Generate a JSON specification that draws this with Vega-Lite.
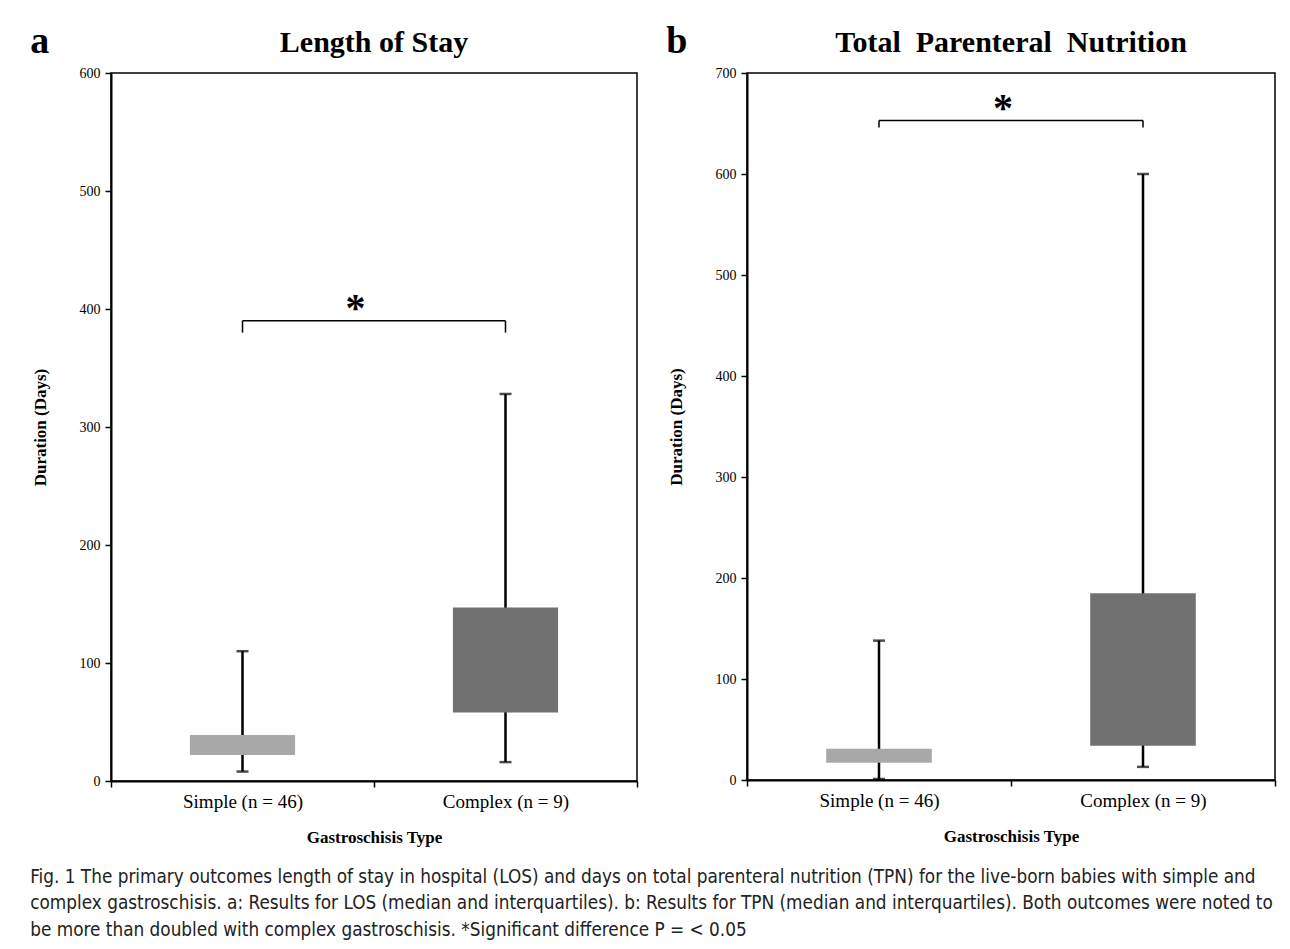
{
  "$schema": "https://vega.github.io/schema/vega-lite/v6.json",
  "background": "white",
  "padding": {"left": 30, "top": 23, "right": 10, "bottom": 10},
  "datasets": {
    "los": [
      {"type": "Simple (n = 46)", "q1": 22, "q3": 39, "lo": 8, "hi": 110},
      {"type": "Complex (n = 9)", "q1": 58, "q3": 147, "lo": 16, "hi": 328}
    ],
    "tpn": [
      {"type": "Simple (n = 46)", "q1": 17, "q3": 31, "lo": 1, "hi": 138},
      {"type": "Complex (n = 9)", "q1": 34, "q3": 185, "lo": 13, "hi": 600}
    ],
    "losSig": [
      {"from": "Simple (n = 46)", "to": "Complex (n = 9)", "bar": 390, "end": 380, "star": 400, "label": "*"}
    ],
    "tpnSig": [
      {"from": "Simple (n = 46)", "to": "Complex (n = 9)", "bar": 653, "end": 646, "star": 664, "label": "*"}
    ]
  },
  "config": {
    "view": {"stroke": "black", "strokeWidth": 1.5},
    "font": "Liberation Serif",
    "axis": {
      "domainColor": "black", "domainWidth": 2, "tickColor": "black", "tickWidth": 1.5, "tickSize": 6,
      "grid": false, "labelColor": "black", "titleColor": "black",
      "labelFont": "Liberation Serif", "titleFont": "Liberation Serif"
    },
    "title": {"font": "Liberation Serif", "color": "black"},
    "concat": {"spacing": 27}
  },
  "title": {
    "text": [
      "Fig. 1 The primary outcomes length of stay in hospital (LOS) and days on total parenteral nutrition (TPN) for the live-born babies with simple and",
      "complex gastroschisis. a: Results for LOS (median and interquartiles). b: Results for TPN (median and interquartiles). Both outcomes were noted to",
      "be more than doubled with complex gastroschisis. *Significant difference P = < 0.05"
    ],
    "orient": "bottom", "anchor": "start", "frame": "bounds",
    "font": "Liberation Sans Narrow, DejaVu Sans Condensed, Open Sans, sans-serif",
    "fontSize": 18.8, "fontWeight": "normal", "lineHeight": 26.5, "offset": 22, "color": "#222222"
  },
  "hconcat": [
    {
      "title": {"text": "a", "anchor": "start", "frame": "bounds", "fontSize": 38, "fontWeight": "bold", "offset": -34},
      "vconcat": [
        {
          "title": {"text": "Length of Stay", "fontSize": 30, "fontWeight": "bold", "anchor": "middle", "offset": 8},
          "width": 526,
          "height": 708,
          "layer": [
            {
              "data": {"name": "los"},
              "mark": {"type": "rule", "color": "black", "strokeWidth": 2.5},
              "encoding": {
                "x": {"field": "type", "type": "nominal", "sort": null,
                  "scale": {"type": "band", "paddingInner": 0, "paddingOuter": 0, "domain": ["Simple (n = 46)", "Complex (n = 9)"]},
                  "axis": {"title": "Gastroschisis Type", "tickBand": "extent", "labelAngle": 0, "labelFontSize": 19, "titleFontSize": 17, "titleFontWeight": "bold", "labelPadding": 5, "titlePadding": 18}},
                "y": {"field": "lo", "type": "quantitative",
                  "scale": {"domain": [0, 600], "nice": false},
                  "axis": {"values": [0, 100, 200, 300, 400, 500, 600], "title": "Duration (Days)", "labelFontSize": 14, "titleFontSize": 17, "titleFontWeight": "bold", "labelPadding": 5, "titlePadding": 30}},
                "y2": {"field": "hi"}
              }
            },
            {
              "data": {"name": "los"},
              "mark": {"type": "tick", "color": "black", "thickness": 2.5, "size": 12, "orient": "horizontal"},
              "encoding": {"x": {"field": "type", "type": "nominal"}, "y": {"field": "lo", "type": "quantitative"}}
            },
            {
              "data": {"name": "los"},
              "mark": {"type": "tick", "color": "black", "thickness": 2.5, "size": 12, "orient": "horizontal"},
              "encoding": {"x": {"field": "type", "type": "nominal"}, "y": {"field": "hi", "type": "quantitative"}}
            },
            {
              "data": {"name": "los"},
              "mark": {"type": "bar", "width": {"band": 0.4}},
              "encoding": {
                "x": {"field": "type", "type": "nominal"},
                "y": {"field": "q1", "type": "quantitative"},
                "y2": {"field": "q3"},
                "color": {"field": "type", "type": "nominal", "legend": null,
                  "scale": {"domain": ["Simple (n = 46)", "Complex (n = 9)"], "range": ["#a8a8a8", "#717171"]}}
              }
            },
            {
              "data": {"name": "losSig"},
              "mark": {"type": "rule", "color": "black", "strokeWidth": 1.5},
              "encoding": {"x": {"field": "from", "type": "nominal"}, "x2": {"field": "to"}, "y": {"field": "bar", "type": "quantitative"}}
            },
            {
              "data": {"name": "losSig"},
              "mark": {"type": "rule", "color": "black", "strokeWidth": 1.5},
              "encoding": {"x": {"field": "from", "type": "nominal"}, "y": {"field": "bar", "type": "quantitative"}, "y2": {"field": "end"}}
            },
            {
              "data": {"name": "losSig"},
              "mark": {"type": "rule", "color": "black", "strokeWidth": 1.5},
              "encoding": {"x": {"field": "to", "type": "nominal"}, "y": {"field": "bar", "type": "quantitative"}, "y2": {"field": "end"}}
            },
            {
              "data": {"name": "losSig"},
              "mark": {"type": "text", "fontSize": 40, "fontWeight": "bold", "baseline": "middle", "align": "center", "color": "black"},
              "encoding": {"x": {"field": "from", "type": "nominal", "bandPosition": 0.93}, "y": {"field": "star", "type": "quantitative"}, "text": {"field": "label"}}
            }
          ]
        }
      ]
    },
    {
      "title": {"text": "b", "anchor": "start", "frame": "bounds", "fontSize": 38, "fontWeight": "bold", "offset": -34},
      "vconcat": [
        {
          "title": {"text": "Total\u00a0 Parenteral\u00a0 Nutrition", "fontSize": 30, "fontWeight": "bold", "anchor": "middle", "offset": 8},
          "width": 528,
          "height": 707,
          "layer": [
            {
              "data": {"name": "tpn"},
              "mark": {"type": "rule", "color": "black", "strokeWidth": 2.5},
              "encoding": {
                "x": {"field": "type", "type": "nominal", "sort": null,
                  "scale": {"type": "band", "paddingInner": 0, "paddingOuter": 0, "domain": ["Simple (n = 46)", "Complex (n = 9)"]},
                  "axis": {"title": "Gastroschisis Type", "tickBand": "extent", "labelAngle": 0, "labelFontSize": 19, "titleFontSize": 17, "titleFontWeight": "bold", "labelPadding": 5, "titlePadding": 18}},
                "y": {"field": "lo", "type": "quantitative",
                  "scale": {"domain": [0, 700], "nice": false},
                  "axis": {"values": [0, 100, 200, 300, 400, 500, 600, 700], "title": "Duration (Days)", "labelFontSize": 14, "titleFontSize": 17, "titleFontWeight": "bold", "labelPadding": 5, "titlePadding": 30}},
                "y2": {"field": "hi"}
              }
            },
            {
              "data": {"name": "tpn"},
              "mark": {"type": "tick", "color": "black", "thickness": 2.5, "size": 12, "orient": "horizontal"},
              "encoding": {"x": {"field": "type", "type": "nominal"}, "y": {"field": "lo", "type": "quantitative"}}
            },
            {
              "data": {"name": "tpn"},
              "mark": {"type": "tick", "color": "black", "thickness": 2.5, "size": 12, "orient": "horizontal"},
              "encoding": {"x": {"field": "type", "type": "nominal"}, "y": {"field": "hi", "type": "quantitative"}}
            },
            {
              "data": {"name": "tpn"},
              "mark": {"type": "bar", "width": {"band": 0.4}},
              "encoding": {
                "x": {"field": "type", "type": "nominal"},
                "y": {"field": "q1", "type": "quantitative"},
                "y2": {"field": "q3"},
                "color": {"field": "type", "type": "nominal", "legend": null,
                  "scale": {"domain": ["Simple (n = 46)", "Complex (n = 9)"], "range": ["#a8a8a8", "#717171"]}}
              }
            },
            {
              "data": {"name": "tpnSig"},
              "mark": {"type": "rule", "color": "black", "strokeWidth": 1.5},
              "encoding": {"x": {"field": "from", "type": "nominal"}, "x2": {"field": "to"}, "y": {"field": "bar", "type": "quantitative"}}
            },
            {
              "data": {"name": "tpnSig"},
              "mark": {"type": "rule", "color": "black", "strokeWidth": 1.5},
              "encoding": {"x": {"field": "from", "type": "nominal"}, "y": {"field": "bar", "type": "quantitative"}, "y2": {"field": "end"}}
            },
            {
              "data": {"name": "tpnSig"},
              "mark": {"type": "rule", "color": "black", "strokeWidth": 1.5},
              "encoding": {"x": {"field": "to", "type": "nominal"}, "y": {"field": "bar", "type": "quantitative"}, "y2": {"field": "end"}}
            },
            {
              "data": {"name": "tpnSig"},
              "mark": {"type": "text", "fontSize": 40, "fontWeight": "bold", "baseline": "middle", "align": "center", "color": "black"},
              "encoding": {"x": {"field": "from", "type": "nominal", "bandPosition": 0.97}, "y": {"field": "star", "type": "quantitative"}, "text": {"field": "label"}}
            }
          ]
        }
      ]
    }
  ]
}
